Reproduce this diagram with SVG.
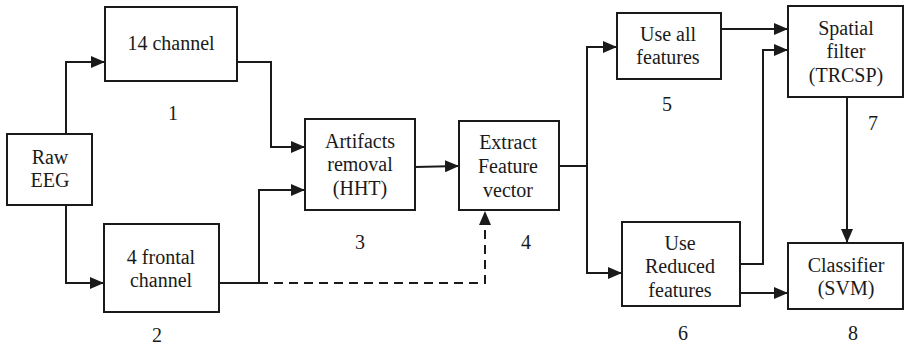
<svg xmlns="http://www.w3.org/2000/svg" width="906" height="345" viewBox="0 0 906 345">
  <style>
    .box { fill: #ffffff; stroke: #1a1a1a; stroke-width: 2; }
    .wire { fill: none; stroke: #1a1a1a; stroke-width: 2; }
    .dash { stroke-dasharray: 9 6; }
  </style>
  <defs>
    <marker id="arrow" viewBox="0 0 14 12" refX="14" refY="6" markerWidth="14" markerHeight="12" markerUnits="userSpaceOnUse" orient="auto">
      <path d="M0,0 L14,6 L0,12 Z" fill="#1a1a1a"/>
    </marker>
  </defs>
  <rect width="906" height="345" fill="#ffffff"/>

  <g id="connectors">
    <polyline class="wire" points="66,134 66,62 105,62" marker-end="url(#arrow)"/>
    <polyline class="wire" points="66,205 66,283 104,283" marker-end="url(#arrow)"/>
    <polyline class="wire" points="237,62 271,62 271,147 305,147" marker-end="url(#arrow)"/>
    <polyline class="wire" points="219,283 259,283 259,190 305,190" marker-end="url(#arrow)"/>
    <polyline class="wire dash" points="259,283 485,283 485,211" marker-end="url(#arrow)"/>
    <polyline class="wire" points="415,167 459,166" marker-end="url(#arrow)"/>
    <polyline class="wire" points="559,166 587,166"/>
    <polyline class="wire" points="587,166 587,47 617,47" marker-end="url(#arrow)"/>
    <polyline class="wire" points="587,166 587,273 622,273" marker-end="url(#arrow)"/>
    <polyline class="wire" points="721,29 788,29" marker-end="url(#arrow)"/>
    <polyline class="wire" points="740,264 763,264 763,50 788,50" marker-end="url(#arrow)"/>
    <polyline class="wire" points="740,293 788,293" marker-end="url(#arrow)"/>
    <polyline class="wire" points="847,97 847,243" marker-end="url(#arrow)"/>
  </g>

  <g id="raw-eeg">
    <rect class="box" x="7" y="134" width="85" height="71"/>
    <text x="50" y="164" font-family="Liberation Serif" font-size="20" fill="#1a1a1a" text-anchor="middle">Raw</text>
    <text x="50" y="187" font-family="Liberation Serif" font-size="20" fill="#1a1a1a" text-anchor="middle">EEG</text>
  </g>

  <g id="node-1">
    <rect class="box" x="105" y="7" width="132" height="74"/>
    <text x="171" y="50" font-family="Liberation Serif" font-size="20" fill="#1a1a1a" text-anchor="middle">14 channel</text>
    <text x="173" y="120" font-family="Liberation Serif" font-size="20" fill="#1a1a1a" text-anchor="middle">1</text>
  </g>

  <g id="node-2">
    <rect class="box" x="104" y="224" width="115" height="88"/>
    <text x="161" y="264" font-family="Liberation Serif" font-size="20" fill="#1a1a1a" text-anchor="middle">4 frontal</text>
    <text x="161" y="287" font-family="Liberation Serif" font-size="20" fill="#1a1a1a" text-anchor="middle">channel</text>
    <text x="157" y="342" font-family="Liberation Serif" font-size="20" fill="#1a1a1a" text-anchor="middle">2</text>
  </g>

  <g id="node-3">
    <rect class="box" x="305" y="119" width="110" height="91"/>
    <text x="360" y="148" font-family="Liberation Serif" font-size="20" fill="#1a1a1a" text-anchor="middle">Artifacts</text>
    <text x="360" y="171" font-family="Liberation Serif" font-size="20" fill="#1a1a1a" text-anchor="middle">removal</text>
    <text x="360" y="195" font-family="Liberation Serif" font-size="20" fill="#1a1a1a" text-anchor="middle">(HHT)</text>
    <text x="360" y="249" font-family="Liberation Serif" font-size="20" fill="#1a1a1a" text-anchor="middle">3</text>
  </g>

  <g id="node-4">
    <rect class="box" x="459" y="121" width="100" height="89"/>
    <text x="508" y="149" font-family="Liberation Serif" font-size="20" fill="#1a1a1a" text-anchor="middle">Extract</text>
    <text x="508" y="173" font-family="Liberation Serif" font-size="20" fill="#1a1a1a" text-anchor="middle">Feature</text>
    <text x="508" y="197" font-family="Liberation Serif" font-size="20" fill="#1a1a1a" text-anchor="middle">vector</text>
    <text x="526" y="249" font-family="Liberation Serif" font-size="20" fill="#1a1a1a" text-anchor="middle">4</text>
  </g>

  <g id="node-5">
    <rect class="box" x="617" y="13" width="104" height="66"/>
    <text x="668" y="41" font-family="Liberation Serif" font-size="20" fill="#1a1a1a" text-anchor="middle">Use all</text>
    <text x="668" y="64" font-family="Liberation Serif" font-size="20" fill="#1a1a1a" text-anchor="middle">features</text>
    <text x="667" y="111" font-family="Liberation Serif" font-size="20" fill="#1a1a1a" text-anchor="middle">5</text>
  </g>

  <g id="node-6">
    <rect class="box" x="622" y="222" width="118" height="84"/>
    <text x="680" y="250" font-family="Liberation Serif" font-size="20" fill="#1a1a1a" text-anchor="middle">Use</text>
    <text x="680" y="273" font-family="Liberation Serif" font-size="20" fill="#1a1a1a" text-anchor="middle">Reduced</text>
    <text x="680" y="297" font-family="Liberation Serif" font-size="20" fill="#1a1a1a" text-anchor="middle">features</text>
    <text x="683" y="340" font-family="Liberation Serif" font-size="20" fill="#1a1a1a" text-anchor="middle">6</text>
  </g>

  <g id="node-7">
    <rect class="box" x="788" y="6" width="115" height="91"/>
    <text x="846" y="35" font-family="Liberation Serif" font-size="20" fill="#1a1a1a" text-anchor="middle">Spatial</text>
    <text x="846" y="58" font-family="Liberation Serif" font-size="20" fill="#1a1a1a" text-anchor="middle">filter</text>
    <text x="846" y="82" font-family="Liberation Serif" font-size="20" fill="#1a1a1a" text-anchor="middle">(TRCSP)</text>
    <text x="873" y="130" font-family="Liberation Serif" font-size="20" fill="#1a1a1a" text-anchor="middle">7</text>
  </g>

  <g id="node-8">
    <rect class="box" x="788" y="243" width="115" height="66"/>
    <text x="846" y="272" font-family="Liberation Serif" font-size="20" fill="#1a1a1a" text-anchor="middle">Classifier</text>
    <text x="846" y="295" font-family="Liberation Serif" font-size="20" fill="#1a1a1a" text-anchor="middle">(SVM)</text>
    <text x="853" y="340" font-family="Liberation Serif" font-size="20" fill="#1a1a1a" text-anchor="middle">8</text>
  </g>
</svg>
